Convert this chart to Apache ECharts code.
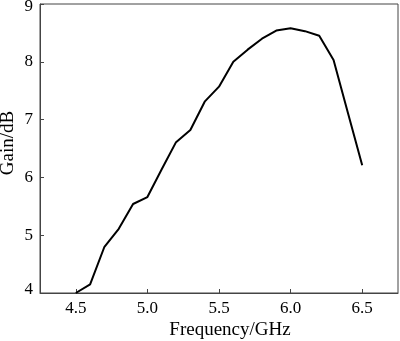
<!DOCTYPE html>
<html><head><meta charset="utf-8">
<script src="https://cdn.jsdelivr.net/npm/echarts@6/dist/echarts.min.js"></script>
<style>html,body{margin:0;padding:0;background:#fff}#c{width:400px;height:341px}</style>
</head><body><div id="c"></div>
<script>
var freq = [4.5, 4.6, 4.7, 4.8, 4.9, 5.0, 5.1, 5.2, 5.3, 5.4, 5.5, 5.6, 5.7, 5.8, 5.9, 6.0, 6.1, 6.2, 6.3, 6.4, 6.5];
var gain = [4.0, 4.15, 4.8, 5.11, 5.54, 5.66, 6.14, 6.61, 6.82, 7.31, 7.57, 8.0, 8.21, 8.4, 8.54, 8.58, 8.53, 8.45, 8.03, 7.12, 6.21];
var xTicks = [4.5, 5.0, 5.5, 6.0, 6.5];
var yTicks = [4, 5, 6, 7, 8, 9];
var xTitle = 'Frequency/GHz';
var yTitle = 'Gain/dB';

var chart = echarts.init(document.getElementById('c'), null, {renderer: 'canvas'});
var font = 'Liberation Serif';
var axisCol = '#444';
chart.setOption({
  animation: false,
  grid: {left: 40, right: 2, top: 4, bottom: 48, show: true, borderColor: axisCol, borderWidth: 1,
    containLabel: false, outerBoundsMode: 'none'},
  graphic: [{
    type: 'text', x: 8, y: 143, rotation: Math.PI / 2,
    style: {text: yTitle, fontFamily: font, fontSize: 19, fill: '#000', align: 'center', verticalAlign: 'middle'}
  }],
  xAxis: {
    type: 'value', min: 4.25, max: 6.75,
    name: xTitle, nameLocation: 'middle', nameGap: 28, nameMoveOverlap: false,
    nameTextStyle: {fontFamily: font, fontSize: 19, color: '#000', padding: [0, 0, 0, 22]},
    axisLine: {show: true, lineStyle: {color: axisCol, width: 1}},
    axisTick: {show: true, inside: true, length: 4, customValues: xTicks, lineStyle: {color: axisCol}},
    axisLabel: {customValues: xTicks, fontFamily: font, fontSize: 17, color: '#000', margin: 7,
      formatter: function (v) { return v.toFixed(1); }},
    splitLine: {show: false}
  },
  yAxis: {
    type: 'value', min: 4, max: 9, interval: 1,
    axisLine: {show: true, lineStyle: {color: axisCol, width: 1}},
    axisTick: {show: true, inside: true, length: 4, lineStyle: {color: axisCol}},
    axisLabel: {fontFamily: font, fontSize: 17, color: '#000', margin: 7,
      formatter: function (v) {
        if (v === yTicks[yTicks.length - 1]) return '{s| }\n' + v;
        if (v === yTicks[0]) return v + '\n{s| }';
        return String(v);
      },
      rich: {
        s: {fontSize: 1, lineHeight: 6}
      }},
    splitLine: {show: false}
  },
  series: [{
    type: 'line', data: freq.map(function (f, i) { return [f, gain[i]]; }),
    showSymbol: false, lineStyle: {color: '#000', width: 2}, itemStyle: {color: '#000'}
  }]
});
</script></body></html>
